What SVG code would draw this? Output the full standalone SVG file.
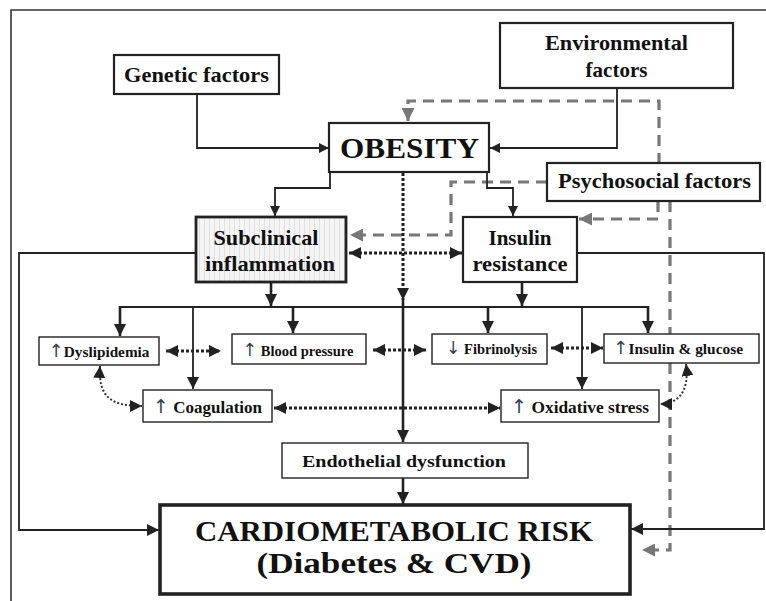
<svg xmlns="http://www.w3.org/2000/svg" width="766" height="601" viewBox="0 0 766 601">
<defs>
<style>
.box{fill:#fff;stroke:#222;stroke-width:2.2}
.sbox{fill:#fff;stroke:#222;stroke-width:1.4}
.t{font-family:"Liberation Serif","Times New Roman",serif;font-weight:bold;fill:#111;text-anchor:middle}
.up{font-weight:normal;font-family:"DejaVu Sans",sans-serif;fill:#345}
.ln{fill:none;stroke:#222;stroke-width:1.8}
.thk{fill:none;stroke:#222;stroke-width:2.6}
.dot{fill:none;stroke:#222;stroke-width:3;stroke-dasharray:3 2}
.tdot{fill:none;stroke:#333;stroke-width:2;stroke-dasharray:2 2}
.dash{fill:none;stroke:#777;stroke-width:3.2;stroke-dasharray:11 7}
.ar{fill:#222}
</style>
<marker id="a" viewBox="0 0 10 10" refX="10" refY="5" markerWidth="10" markerHeight="10" markerUnits="userSpaceOnUse" orient="auto-start-reverse"><path class="ar" d="M0,0L10,5L0,10z"/></marker>
<marker id="ab" viewBox="0 0 10 10" refX="10" refY="5" markerWidth="12" markerHeight="12" markerUnits="userSpaceOnUse" orient="auto-start-reverse"><path class="ar" d="M0,0L10,5L0,10z"/></marker>
<marker id="ag" viewBox="0 0 10 10" refX="10" refY="5" markerWidth="14" markerHeight="13" markerUnits="userSpaceOnUse" orient="auto"><path fill="#777" d="M0,0L10,5L0,10z"/></marker>
<pattern id="stripe" width="5" height="10" patternUnits="userSpaceOnUse"><rect width="5" height="10" fill="#f5f5f5"/><line x1="4.5" y1="0" x2="4.5" y2="10" stroke="#e0e0e0" stroke-width="1"/></pattern>
</defs>
<rect width="766" height="601" fill="#fff"/>
<path d="M11,601V10H766" fill="none" stroke="#333" stroke-width="1.6"/>

<g id="connectors">
<path class="ln" d="M197,94V148H329" marker-end="url(#a)"/>
<path class="ln" d="M617,88V148H490" marker-end="url(#a)"/>
<path class="dash" d="M659,164V101H408V121" marker-end="url(#ag)"/>
<path class="dash" d="M547,182H451V235H350" marker-end="url(#ag)"/>
<path class="dash" d="M658,201V219H579" marker-end="url(#ag)"/>
<path class="dash" d="M670,201V550H642" marker-end="url(#ag)"/>
<path class="ln" d="M330,172V188H275V216" marker-end="url(#a)"/>
<path class="ln" d="M487,172V188H513V216" marker-end="url(#a)"/>
<path class="dot" d="M403,173V300" marker-end="url(#ab)"/>
<path class="dot" d="M349,253H462" marker-start="url(#ab)" marker-end="url(#ab)"/>
<path class="ln" d="M196,253H19V530H159" stroke-width="2.2" marker-end="url(#ab)"/>
<path class="ln" d="M577,253H764V529H631" stroke-width="2.2" marker-end="url(#ab)"/>
<path class="thk" d="M271,283V306" stroke-width="3.6" marker-end="url(#ab)"/>
<path class="thk" d="M522,283V306" stroke-width="3.6" marker-end="url(#ab)"/>
<path class="ln" d="M120,307H648" stroke-width="2.2"/>
<path class="thk" d="M120,306V336" marker-end="url(#ab)"/>
<path class="ln" d="M193,307V389" marker-end="url(#ab)"/>
<path class="thk" d="M293,307V333" marker-end="url(#ab)"/>
<path class="thk" d="M403,300V442" stroke-width="3.2" marker-end="url(#ab)"/>
<path class="thk" d="M488,307V333" marker-end="url(#ab)"/>
<path class="ln" d="M582,307V389" marker-end="url(#ab)"/>
<path class="thk" d="M648,306V333" stroke-width="3.2" marker-end="url(#ab)"/>
<path class="thk" d="M403,478V504" stroke-width="2.8" marker-end="url(#ab)"/>
<path class="dot" d="M166,351H221" marker-start="url(#ab)" marker-end="url(#ab)"/>
<path class="dot" d="M373,350H426" marker-start="url(#ab)" marker-end="url(#ab)"/>
<path class="dot" d="M551,348H603" marker-start="url(#ab)" marker-end="url(#ab)"/>
<path class="dot" d="M274,408H500" marker-start="url(#ab)" marker-end="url(#ab)"/>
<path class="tdot" d="M100,366C98,398 112,406 142,406" marker-start="url(#ab)" marker-end="url(#ab)"/>
<path class="tdot" d="M686,364C690,394 676,404 660,404" marker-start="url(#ab)" marker-end="url(#ab)"/>
</g>

<g id="genetic"><rect class="box" x="114" y="55" width="165" height="39"/><text class="t" x="196.5" y="82" font-size="21" textLength="145" lengthAdjust="spacingAndGlyphs">Genetic factors</text></g>
<g id="environmental"><rect class="box" x="500" y="23" width="233" height="65"/><text class="t" x="616.5" y="50" font-size="21" textLength="143" lengthAdjust="spacingAndGlyphs">Environmental</text><text class="t" x="616.5" y="77" font-size="21">factors</text></g>
<g id="obesity"><rect class="box" x="329" y="123" width="160" height="49"/><text class="t" x="409.5" y="158" font-size="30" textLength="139" lengthAdjust="spacingAndGlyphs">OBESITY</text></g>
<g id="psychosocial"><rect class="box" x="547" y="163" width="213" height="38"/><text class="t" x="654.5" y="188" font-size="21" textLength="193" lengthAdjust="spacingAndGlyphs">Psychosocial factors</text></g>
<g id="subclinical"><rect x="196" y="217" width="150" height="65" fill="url(#stripe)" stroke="#222" stroke-width="2.8"/><text class="t" x="266" y="245" font-size="21" textLength="105" lengthAdjust="spacingAndGlyphs">Subclinical</text><text class="t" x="270" y="271" font-size="21" textLength="130" lengthAdjust="spacingAndGlyphs">inflammation</text></g>
<g id="insulin-resistance"><rect class="box" x="463" y="217" width="114" height="65"/><text class="t" x="520" y="245" font-size="21">Insulin</text><text class="t" x="520" y="271" font-size="21" textLength="95" lengthAdjust="spacingAndGlyphs">resistance</text></g>
<g id="dyslipidemia"><rect class="sbox" x="39" y="337" width="120" height="28"/><text class="t" x="99" y="357" font-size="15" textLength="101" lengthAdjust="spacingAndGlyphs"><tspan class="up" font-size="18">↑</tspan>Dyslipidemia</text></g>
<g id="blood-pressure"><rect class="sbox" x="232" y="334" width="134" height="30"/><text class="t" x="298" y="356" font-size="15" textLength="111" lengthAdjust="spacingAndGlyphs"><tspan class="up" font-size="18">↑</tspan> Blood pressure</text></g>
<g id="fibrinolysis"><rect class="sbox" x="432" y="334" width="115" height="30"/><text class="t" x="491.5" y="354" font-size="15" textLength="91" lengthAdjust="spacingAndGlyphs"><tspan class="up" font-size="18">↓</tspan> Fibrinolysis</text></g>
<g id="insulin-glucose"><rect class="sbox" x="604" y="334" width="155" height="29"/><text class="t" x="678" y="354" font-size="15" textLength="130" lengthAdjust="spacingAndGlyphs"><tspan class="up" font-size="18">↑</tspan>Insulin &amp; glucose</text></g>
<g id="coagulation"><rect class="sbox" x="143" y="390" width="129" height="32"/><text class="t" x="207.5" y="413" font-size="17" textLength="109" lengthAdjust="spacingAndGlyphs"><tspan class="up" font-size="19">↑</tspan> Coagulation</text></g>
<g id="oxidative"><rect class="sbox" x="501" y="390" width="158" height="32"/><text class="t" x="580" y="413" font-size="17" textLength="138" lengthAdjust="spacingAndGlyphs"><tspan class="up" font-size="19" fill="#435">↑</tspan> Oxidative stress</text></g>
<g id="endothelial"><rect class="sbox" x="282" y="443" width="246" height="35"/><text class="t" x="404" y="467" font-size="17" textLength="204" lengthAdjust="spacingAndGlyphs">Endothelial dysfunction</text></g>
<g id="cardiometabolic"><rect x="160" y="505" width="470" height="89" fill="#fff" stroke="#222" stroke-width="3.6"/><text class="t" x="394" y="541" font-size="30" textLength="398" lengthAdjust="spacingAndGlyphs">CARDIOMETABOLIC RISK</text><text class="t" x="394" y="573" font-size="30" textLength="275" lengthAdjust="spacingAndGlyphs">(Diabetes &amp; CVD)</text></g>
</svg>
